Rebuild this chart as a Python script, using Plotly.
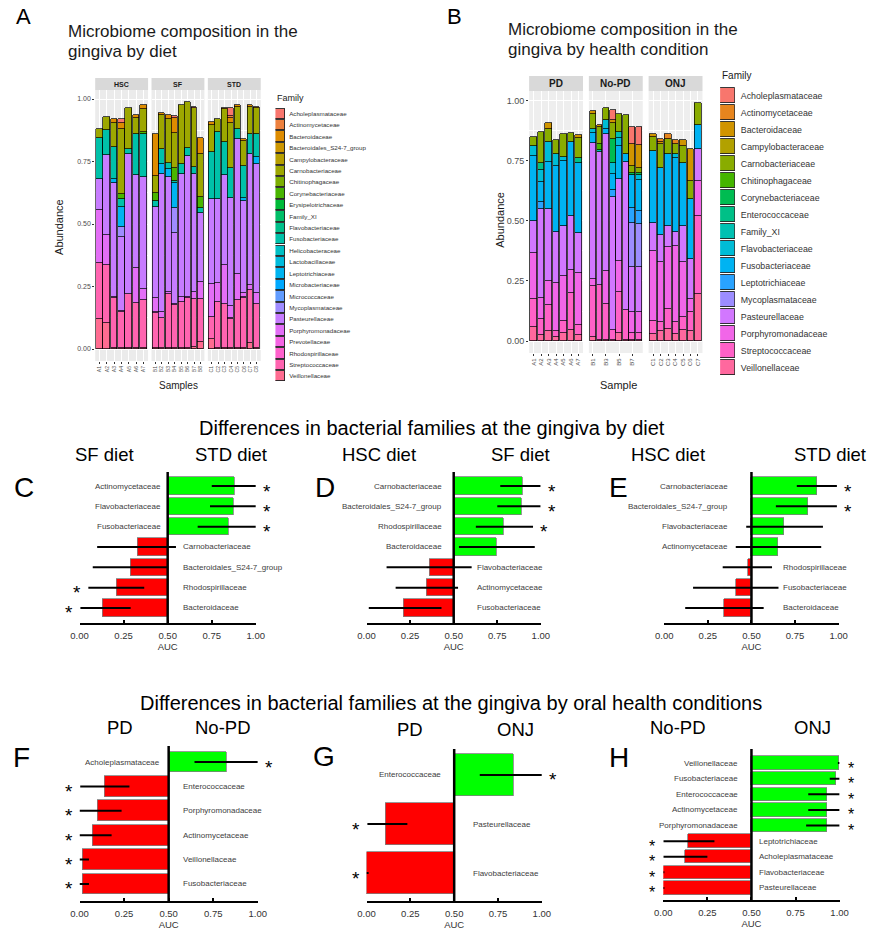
import math
import plotly.graph_objects as go

W, H = 878, 939
FONT = "Arial, 'Liberation Sans', sans-serif"

# ---------------- Panel A data (gingiva by diet) ----------------
a_families = ["Acholeplasmataceae", "Actinomycetaceae", "Bacteroidaceae", "Bacteroidales_S24-7_group",
              "Campylobacteraceae", "Carnobacteriaceae", "Chitinophagaceae", "Corynebacteriaceae",
              "Erysipelotrichaceae", "Family_XI", "Flavobacteriaceae", "Fusobacteriaceae",
              "Helicobacteraceae", "Lactobacillaceae", "Leptotrichiaceae", "Microbacteriaceae",
              "Micrococcaceae", "Mycoplasmataceae", "Pasteurellaceae", "Porphyromonadaceae",
              "Prevotellaceae", "Rhodospirillaceae", "Streptococcaceae", "Veillonellaceae"]
a_groups = ["HSC", "SF", "STD"]
a_samples_hsc = ["A1", "A2", "A3", "A4", "A5", "A6", "A7"]
a_samples_sf = ["B1", "B2", "B3", "B4", "B5", "B6", "B7", "B8"]
a_samples_std = ["C1", "C2", "C3", "C4", "C5", "C6", "C7", "C8"]
# values: HSC1-7, SF1-8, STD1-8
a_veillonellaceae = [.12, .105, .005, .005, .005, .005, .005, .005, .005, .005, .005, .005, .005, .01, .03,
                     .04, .005, .005, .005, .005, .005, .025, .005]
a_streptococcaceae = [.225, .23, .20, .145, .215, .18, .19, .14, .12, .215, .17, .185, .20, .19, .17,
                      .09, .185, .175, .115, .19, .20, .21, .175]
a_prevotellaceae = [0, 0, .004, .004, 0, 0, 0, .004, 0, 0, .004, 0, .004, 0, 0,
                    0, 0, 0, .004, 0, .004, 0, 0]
a_porphyromonadaceae = [.21, .12, 0, 0, 0, .14, .045, .055, .025, .01, 0, .02, 0, .03, .07,
                        .13, .075, .155, .05, .105, .015, .02, .045]
a_pasteurellaceae = [.125, .32, .455, .295, .56, .37, .45, .365, .55, .46, .285, .49, .565, .47, .275,
                     .34, .335, .36, .43, .54, .37, .525, .515]
a_mycoplasmataceae = [0, 0, 0, .04, 0, 0, 0, 0, 0, 0, .10, 0, 0, 0, 0,
                      0, 0, 0, 0, 0, 0, 0, 0]
a_leptotrichiaceae = [0, 0, .015, .08, 0, 0, 0, 0, .04, .03, .10, 0, 0, 0, 0,
                      0, 0, 0, 0, 0, .01, 0, .03]
a_fusobacteriaceae = [.165, .10, .13, .03, .02, .165, .17, .025, .06, .025, .01, .04, .03, .03, .02,
                      .19, .27, .135, .12, .04, .13, .08, .09]
a_corynebacteriaceae = [0, 0, 0, .02, 0, 0, .01, .03, 0, 0, .05, 0, 0, 0, .045,
                        0, 0, 0, 0, 0, 0, 0, 0]
a_carnobacteriaceae = [.035, .055, .095, .26, .165, .065, .09, .07, .135, .175, .14, .235, .185, .235, .17,
                       .105, .05, .13, .18, .09, .10, .11, .105]
a_bacteroidaceae = [0, 0, .015, .025, 0, .01, .015, .165, .01, .015, .06, 0, 0, 0, .065,
                    .015, 0, .005, .02, .005, .005, .005, .005]
a_actinomycetaceae = [0, 0, 0, 0, 0, 0, 0, 0, 0, 0, 0, 0, 0, 0, 0,
                      0, 0, 0, .01, 0, 0, 0, 0]
a_acholeplasmataceae = [0, 0, 0, .015, 0, 0, 0, 0, 0, 0, .01, 0, 0, .005, 0,
                        0, 0, 0, .03, 0, 0, 0, 0]

# ---------------- Panel B data (gingiva by health condition) ----------------
b_families = ["Acholeplasmataceae", "Actinomycetaceae", "Bacteroidaceae", "Campylobacteraceae",
              "Carnobacteriaceae", "Chitinophagaceae", "Corynebacteriaceae", "Enterococcaceae",
              "Family_XI", "Flavobacteriaceae", "Fusobacteriaceae", "Leptotrichiaceae",
              "Mycoplasmataceae", "Pasteurellaceae", "Porphyromonadaceae", "Streptococcaceae",
              "Veillonellaceae"]
b_groups = ["PD", "No-PD", "ONJ"]
b_samples_pd = ["A1", "A2", "A3", "A4", "A5", "A6", "A7"]
b_samples_nopd = ["B1", "B2", "B3", "B4", "B5", "B6", "B7", "B8"]
b_samples_onj = ["C1", "C2", "C3", "C4", "C5", "C6", "C7"]
# values: PD1-7, No-PD1-8, ONJ1-7
b_veillonellaceae = [.058, .025, .04, .015, .035, .045, .025, .015, .005, .005, .005, .035, .005, .005, .005,
                     .03, .04, .05, .03, .045, .04, .195]
b_streptococcaceae = [.118, .065, .11, .025, .05, .155, .04, .215, .23, .15, .04, .17, .125, .03, .03,
                      .055, .04, .085, .05, .055, .08, .325]
b_porphyromonadaceae = [.19, .09, .10, .20, .185, .095, .22, .03, 0, .135, 0, .13, 0, .085, .085,
                        .29, .25, .255, .315, .23, .055, .145]
b_pasteurellaceae = [.134, .37, .30, .215, .21, .225, .165, .565, .55, .57, .555, .34, .615, .19, .19,
                     .115, .11, .09, .06, .15, .165, .135]
b_mycoplasmataceae = [0, 0, 0, 0, 0, 0, 0, 0, 0, 0, 0, 0, 0, .18, .175,
                      0, 0, 0, 0, 0, 0, 0]
b_leptotrichiaceae = [0, .03, 0, 0, 0, 0, 0, 0, 0, 0, .03, 0, 0, .065, .055,
                      0, 0, 0, 0, 0, 0, 0]
b_fusobacteriaceae = [.27, .08, .195, .275, .27, .31, .29, .04, 0, .02, .065, .135, .035, .135, .13,
                      .30, .28, .30, .305, .26, .25, .10]
b_flavobacteriaceae = [.04, .05, .085, .05, .015, 0, 0, .015, 0, .04, .045, .035, 0, 0, .02,
                       0, 0, 0, .02, 0, 0, 0]
b_family_xi = [0, 0, 0, 0, 0, 0, 0, 0, .01, 0, 0, .025, 0, 0, 0,
               0, 0, 0, 0, 0, 0, 0]
b_enterococcaceae = [0, .03, 0, 0, 0, 0, .02, 0, 0, 0, 0, 0, 0, 0, 0,
                     0, 0, 0, 0, 0, 0, 0]
b_corynebacteriaceae = [0, 0, 0, 0, 0, 0, 0, 0, 0, 0, .10, 0, 0, .01, .01,
                        0, 0, 0, 0, 0, 0, 0]
b_chitinophagaceae = [0, 0, 0, 0, 0, 0, 0, 0, .025, 0, 0, 0, 0, 0, 0,
                      0, 0, 0, 0, 0, 0, 0]
b_carnobacteriaceae = [.04, .13, .05, .055, .095, .035, .085, .065, .07, .05, .065, .075, .16, .03, .02,
                       .06, .10, .06, .04, .07, .075, .09]
b_bacteroidaceae = [0, 0, .025, 0, 0, 0, .01, .01, .01, 0, .015, 0, 0, .09, .095,
                    .01, .01, 0, 0, .025, .135, 0]
b_actinomycetaceae = [0, 0, 0, 0, 0, 0, 0, 0, 0, 0, 0, 0, 0, 0, 0,
                      0, .01, .02, .015, 0, 0, 0]
b_acholeplasmataceae = [0, 0, 0, 0, 0, 0, 0, 0, 0, 0, .04, 0, 0, .07, .075,
                        0, 0, 0, 0, 0, 0, 0]

# ---------------- AUC panels ----------------
c_names = ["Actinomycetaceae", "Flavobacteriaceae", "Fusobacteriaceae", "Carnobacteriaceae",
           "Bacteroidales_S24-7_group", "Rhodospirillaceae", "Bacteroidaceae"]
c_auc = [0.878, 0.872, 0.844, 0.33, 0.29, 0.21, 0.133]
c_lo = [0.75, 0.74, 0.67, 0.10, 0.075, 0.05, 0.005]
c_hi = [1.0, 1.0, 1.0, 0.547, 0.50, 0.367, 0.29]
c_sig = [1, 1, 1, 0, 0, 1, 1]

d_names = ["Carnobacteriaceae", "Bacteroidales_S24-7_group", "Rhodospirillaceae", "Bacteroidaceae",
           "Flavobacteriaceae", "Actinomycetaceae", "Fusobacteriaceae"]
d_auc = [0.897, 0.888, 0.788, 0.744, 0.363, 0.345, 0.211]
d_lo = [0.767, 0.75, 0.627, 0.53, 0.115, 0.167, 0.013]
d_hi = [0.998, 0.998, 0.955, 0.965, 0.603, 0.525, 0.43]
d_sig = [1, 1, 1, 0, 0, 0, 0]

e_names = ["Carnobacteriaceae", "Bacteroidales_S24-7_group", "Flavobacteriaceae", "Actinomycetaceae",
           "Rhodospirillaceae", "Fusobacteriaceae", "Bacteroidaceae"]
e_auc = [0.88, 0.826, 0.69, 0.655, 0.484, 0.413, 0.345]
e_lo = [0.76, 0.64, 0.47, 0.41, 0.335, 0.165, 0.12]
e_hi = [0.99, 0.99, 0.91, 0.90, 0.618, 0.655, 0.57]
e_sig = [1, 1, 0, 0, 0, 0, 0]

f_names = ["Acholeplasmataceae", "Enterococcaceae", "Porphyromonadaceae", "Actinomycetaceae",
           "Veillonellaceae", "Fusobacteriaceae"]
f_auc = [0.822, 0.14, 0.103, 0.071, 0.016, 0.016]
f_lo = [0.645, 0.004, 0.0, 0.0, 0.0, 0.0]
f_hi = [1.0, 0.28, 0.236, 0.18, 0.053, 0.053]
f_sig = [1, 1, 1, 1, 1, 1]

g_names = ["Enterococcaceae", "Pasteurellaceae", "Flavobacteriaceae"]
g_auc = [0.84, 0.106, 0.0]
g_lo = [0.646, 0.005, 0.0]
g_hi = [1.0, 0.233, 0.012]
g_sig = [1, 1, 1]

h_names = ["Veillonellaceae", "Fusobacteriaceae", "Enterococcaceae", "Actinomycetaceae",
           "Porphyromonadaceae", "Leptotrichiaceae", "Acholeplasmataceae", "Flavobacteriaceae",
           "Pasteurellaceae"]
h_auc = [1.0, 0.983, 0.93, 0.93, 0.93, 0.14, 0.122, 0.0, 0.0]
h_lo = [0.99, 0.944, 0.822, 0.822, 0.81, 0.0, 0.0, 0.0, 0.0]
h_hi = [1.0, 1.0, 1.0, 1.0, 1.0, 0.29, 0.25, 0.006, 0.006]
h_sig = [1, 1, 1, 1, 1, 1, 1, 1, 1]

auc_ticks = [0, 0.25, 0.5, 0.75, 1.0]
auc_ticktext = ["0.00", "0.25", "0.50", "0.75", "1.00"]
abund_ticks = [0, 0.25, 0.5, 0.75, 1.0]
abund_ticktext = ["0.00", "0.25", "0.50", "0.75", "1.00"]


# ---------------- helpers ----------------
def hcl_hex(h, c=100.0, l=65.0):
    hr = math.radians(h)
    U, V = c * math.cos(hr), c * math.sin(hr)
    Xn, Yn, Zn = 95.047, 100.0, 108.883
    Y = Yn * ((l + 16) / 116) ** 3 if l > 8 else Yn * l / 903.3
    t = Xn + 15 * Yn + 3 * Zn
    un, vn = 4 * Xn / t, 9 * Yn / t
    u, v = U / (13 * l) + un, V / (13 * l) + vn
    X = 9.0 * Y * u / (4 * v)
    Z = -X / 3 - 5 * Y + 3 * Y / v
    X, Y, Z = X / 100, Y / 100, Z / 100
    r = 3.240479 * X - 1.537150 * Y - 0.498535 * Z
    g = -0.969256 * X + 1.875992 * Y + 0.041556 * Z
    b = 0.055648 * X - 0.204043 * Y + 1.057311 * Z

    def gam(x):
        x = 1.055 * x ** (1 / 2.4) - 0.055 if x > 0.0031308 else 12.92 * x
        return min(1.0, max(0.0, x))
    return "#%02X%02X%02X" % tuple(int(round(255 * gam(x))) for x in (r, g, b))


def hue_pal(n):
    return [hcl_hex(15 + 360.0 * i / n) for i in range(n)]


def P(x):
    return x / W


def Q(y):
    return 1 - y / H


def ref(i, letter):
    return letter if i == 1 else f"{letter}{i}"


def axkey(i, letter):
    return f"{letter}axis" if i == 1 else f"{letter}axis{i}"


fig = go.Figure()
lay = {}
shapes = []
annos = []


def text(x, y, s, size, xanchor="center", yanchor="middle", color="#000000", angle=0, xref="paper",
         yref="paper", xshift=0, yshift=0):
    annos.append(dict(x=x, y=y, xref=xref, yref=yref, text=s, showarrow=False, xanchor=xanchor,
                      yanchor=yanchor, textangle=angle, xshift=xshift, yshift=yshift,
                      font=dict(size=size, color=color, family=FONT)))


def composition(start, groups, sample_groups, families, values, colors, xdoms, ytop, ybot, yrng,
                strip, strip_size, ytick_size, xtick_size, bg):
    offset = 0
    for k, g in enumerate(groups):
        idx = start + k
        xa, ya = ref(idx, "x"), ref(idx, "y")
        smp = sample_groups[k]
        n = len(smp)
        for fam in reversed(families):
            vals = values.get(fam)
            if vals is None:
                continue
            seg = vals[offset:offset + n]
            if not any(seg):
                continue
            fig.add_trace(go.Bar(x=smp, y=[v if v else None for v in seg], width=0.9,
                                 marker=dict(color=colors[fam], line=dict(color="black", width=0.7)),
                                 xaxis=xa, yaxis=ya, showlegend=False, hoverinfo="skip"))
        offset += n
        lay[axkey(idx, "x")] = dict(domain=[P(xdoms[k][0]), P(xdoms[k][1])], anchor=ya, type="category",
                                    categoryorder="array", categoryarray=smp, range=[-0.6, n - 0.4],
                                    tickangle=-90, tickfont=dict(size=xtick_size, color="#4d4d4d"),
                                    showgrid=True, gridcolor="white", gridwidth=1, ticks="outside",
                                    ticklen=2, tickcolor="#333333", showline=False, zeroline=False)
        lay[axkey(idx, "y")] = dict(domain=[Q(ybot), Q(ytop)], anchor=xa, range=yrng,
                                    tickmode="array", tickvals=abund_ticks, ticktext=abund_ticktext,
                                    showticklabels=(k == 0), ticks="outside" if k == 0 else "",
                                    ticklen=2, tickcolor="#333333",
                                    tickfont=dict(size=ytick_size, color="#4d4d4d"),
                                    showgrid=True, gridcolor="white", gridwidth=1, zeroline=False,
                                    showline=False,
                                    minor=dict(tickmode="array", tickvals=[0.125, 0.375, 0.625, 0.875],
                                               showgrid=True, gridcolor="white", gridwidth=0.5))
        shapes.append(dict(type="rect", xref=f"{xa} domain", yref=f"{ya} domain", x0=0, x1=1, y0=0, y1=1,
                           fillcolor=bg, line=dict(width=0), layer="below"))
        shapes.append(dict(type="rect", xref=f"{xa} domain", yref="paper", x0=0, x1=1,
                           y0=Q(strip[1]), y1=Q(strip[0]), fillcolor="#D9D9D9", line=dict(width=0),
                           layer="below"))
        annos.append(dict(x=0.5, y=Q((strip[0] + strip[1]) / 2), xref=f"{xa} domain", yref="paper",
                          text=f"<b>{g}</b>", showarrow=False, xanchor="center", yanchor="middle",
                          font=dict(size=strip_size, color="#1a1a1a", family=FONT)))


def legend_keys(idx, families, colors, x0, x1, ytop, ybot, label_size, standoff):
    xa, ya = ref(idx, "x"), ref(idx, "y")
    n = len(families)
    pos = list(range(n))
    fig.add_trace(go.Bar(y=pos, x=[1] * n, orientation="h", width=0.9,
                         marker=dict(color=[colors[f] for f in families], line=dict(color="#222222", width=0.9)),
                         xaxis=xa, yaxis=ya, showlegend=False, hoverinfo="skip"))
    lay[axkey(idx, "x")] = dict(domain=[P(x0), P(x1)], anchor=ya, range=[0, 1], visible=False)
    lay[axkey(idx, "y")] = dict(domain=[Q(ybot), Q(ytop)], anchor=xa, range=[n - 0.5, -0.5], side="right",
                                tickmode="array", tickvals=pos, ticktext=families, ticks="",
                                showgrid=False, zeroline=False, showline=False,
                                ticklabelstandoff=standoff,
                                tickfont=dict(size=label_size, color="#333333"))


def auc_panel(idx, names, auc, lo, hi, sig, x0, x1, top, axis_y, tpad, bpad, gshift, rshift, star_size=19):
    n = len(names)
    xa, ya = ref(idx, "x"), ref(idx, "y")
    pos = list(range(n))
    cols = ["#00FF00" if a > 0.5 else "#FF0000" for a in auc]
    fig.add_trace(go.Bar(y=pos, x=[a - 0.5 for a in auc], base=0.5, orientation="h", width=0.85,
                         marker=dict(color=cols, line=dict(color="#808080", width=0.8)),
                         xaxis=xa, yaxis=ya, showlegend=False, hoverinfo="skip", cliponaxis=False))
    xs, ys = [], []
    for i in range(n):
        xs += [lo[i], hi[i], None]
        ys += [i, i, None]
    fig.add_trace(go.Scatter(x=xs, y=ys, mode="lines", line=dict(color="black", width=2),
                             xaxis=xa, yaxis=ya, showlegend=False, hoverinfo="skip", cliponaxis=False))
    lay[axkey(idx, "x")] = dict(domain=[P(x0), P(x1)], anchor=ya, range=[0, 1], tickmode="array",
                                tickvals=auc_ticks, ticktext=auc_ticktext, showline=True, linecolor="black",
                                linewidth=1.5, ticks="inside", ticklen=3, tickwidth=1.5, tickcolor="black",
                                ticklabelstandoff=3, tickfont=dict(size=9.5, color="#333333"),
                                showgrid=False, zeroline=False,
                                title=dict(text="AUC", font=dict(size=9.5, color="#333333"), standoff=3))
    lay[axkey(idx, "y")] = dict(domain=[Q(axis_y), Q(top)], anchor=xa, range=[n - 1 + bpad, -tpad],
                                visible=False)
    shapes.append(dict(type="line", xref=xa, yref=f"{ya} domain", x0=0.5, x1=0.5, y0=0, y1=1,
                       line=dict(color="black", width=2.5), layer="above"))
    greens = [lo[i] for i in range(n) if auc[i] > 0.5]
    reds = [hi[i] for i in range(n) if auc[i] <= 0.5]
    g_anchor = min([0.5] + greens)
    r_anchor = max([0.5] + reds)
    for i in range(n):
        if auc[i] > 0.5:
            annos.append(dict(x=g_anchor, y=i, xref=xa, yref=ya, text=names[i], showarrow=False,
                              xanchor="right", yanchor="middle", xshift=-gshift,
                              font=dict(size=8, color="#404040", family=FONT)))
            if sig[i]:
                annos.append(dict(x=hi[i], y=i, xref=xa, yref=ya, text="*", showarrow=False,
                                  xanchor="center", yanchor="middle", xshift=11, yshift=-5,
                                  font=dict(size=star_size, color="black", family=FONT)))
        else:
            annos.append(dict(x=r_anchor, y=i, xref=xa, yref=ya, text=names[i], showarrow=False,
                              xanchor="left", yanchor="middle", xshift=rshift,
                              font=dict(size=8, color="#404040", family=FONT)))
            if sig[i]:
                annos.append(dict(x=lo[i], y=i, xref=xa, yref=ya, text="*", showarrow=False,
                                  xanchor="center", yanchor="middle", xshift=-11, yshift=-5,
                                  font=dict(size=star_size, color="black", family=FONT)))


# ---------------- build panel A ----------------
a_values = {"Veillonellaceae": a_veillonellaceae, "Streptococcaceae": a_streptococcaceae,
            "Prevotellaceae": a_prevotellaceae, "Porphyromonadaceae": a_porphyromonadaceae,
            "Pasteurellaceae": a_pasteurellaceae, "Mycoplasmataceae": a_mycoplasmataceae,
            "Leptotrichiaceae": a_leptotrichiaceae, "Fusobacteriaceae": a_fusobacteriaceae,
            "Corynebacteriaceae": a_corynebacteriaceae, "Carnobacteriaceae": a_carnobacteriaceae,
            "Bacteroidaceae": a_bacteroidaceae, "Actinomycetaceae": a_actinomycetaceae,
            "Acholeplasmataceae": a_acholeplasmataceae}
a_colors = dict(zip(a_families, hue_pal(len(a_families))))
composition(1, a_groups, [a_samples_hsc, a_samples_sf, a_samples_std], a_families, a_values, a_colors,
            [(88, 142), (145.5, 199.5), (203, 257)], 90, 361, [-0.048, 1.036], (78, 90), 7, 7, 5,
            "#EBEBEB")
legend_keys(4, a_families, a_colors, 272, 282, 108, 382, 6.2, 3)

# ---------------- build panel B ----------------
b_values = {"Veillonellaceae": b_veillonellaceae, "Streptococcaceae": b_streptococcaceae,
            "Porphyromonadaceae": b_porphyromonadaceae, "Pasteurellaceae": b_pasteurellaceae,
            "Mycoplasmataceae": b_mycoplasmataceae, "Leptotrichiaceae": b_leptotrichiaceae,
            "Fusobacteriaceae": b_fusobacteriaceae, "Flavobacteriaceae": b_flavobacteriaceae,
            "Family_XI": b_family_xi, "Enterococcaceae": b_enterococcaceae,
            "Corynebacteriaceae": b_corynebacteriaceae, "Chitinophagaceae": b_chitinophagaceae,
            "Carnobacteriaceae": b_carnobacteriaceae, "Bacteroidaceae": b_bacteroidaceae,
            "Actinomycetaceae": b_actinomycetaceae, "Acholeplasmataceae": b_acholeplasmataceae}
b_colors = dict(zip(b_families, hue_pal(len(b_families))))
composition(5, b_groups, [b_samples_pd, b_samples_nopd, b_samples_onj], b_families, b_values, b_colors,
            [(531, 586), (592, 647), (653, 708)], 91, 353, [-0.0495, 1.04], (76, 91), 10, 9, 6,
            "#EEEEEE")
legend_keys(8, b_families, b_colors, 726, 741, 87, 376, 8.8, 5)

# ---------------- AUC panels ----------------
auc_panel(9, c_names, c_auc, c_lo, c_hi, c_sig, 72, 252, 472, 623, 0.69, 0.74, 5, 5)
auc_panel(10, d_names, d_auc, d_lo, d_hi, d_sig, 365, 543, 472, 623, 0.69, 0.74, 10, 3)
auc_panel(11, e_names, e_auc, e_lo, e_hi, e_sig, 669, 847, 472, 623, 0.69, 0.74, 6, 3)
auc_panel(12, f_names, f_auc, f_lo, f_hi, f_sig, 72, 254, 746, 901, 0.66, 0.70, 7, 12)
auc_panel(13, g_names, g_auc, g_lo, g_hi, g_sig, 365, 544, 749, 901, 0.53, 0.57, 11, 17)
auc_panel(14, h_names, h_auc, h_lo, h_hi, h_sig, 668, 848, 749, 900, 0.9, 0.77, 11, 6, star_size=16)

# ---------------- texts ----------------
text(P(15), Q(16), "A", 22)
text(P(455), Q(16), "B", 22)
text(P(58), Q(31), "Microbiome composition in the", 17, xanchor="left", color="#1a1a1a")
text(P(58), Q(51), "gingiva by diet", 17, xanchor="left", color="#1a1a1a")
text(P(507), Q(30), "Microbiome composition in the", 17, xanchor="left", color="#1a1a1a")
text(P(507), Q(50), "gingiva by health condition", 17, xanchor="left", color="#1a1a1a")
text(P(51), Q(227), "Abundance", 11, angle=-90, color="#1a1a1a")
text(P(173), Q(385), "Samples", 10, color="#1a1a1a")
text(P(501), Q(220), "Abundance", 11, angle=-90, color="#1a1a1a")
text(P(622), Q(385), "Sample", 11, color="#1a1a1a")
text(P(272), Q(98), "Family", 9, xanchor="left", color="#1a1a1a")
text(P(726), Q(76), "Family", 10, xanchor="left", color="#1a1a1a")

text(P(432), Q(428), "Differences in bacterial families at the gingiva by diet", 20)
text(P(451), Q(703), "Differences in bacterial families at the gingiva by oral health conditions", 20)

for lbl, x, y in [("C", 15, 487), ("D", 323, 487), ("E", 622, 487),
                  ("F", 13, 757), ("G", 322, 756), ("H", 623, 757)]:
    text(P(x), Q(y), lbl, 28)

for s, x, y in [("SF diet", 97, 454), ("STD diet", 227, 454), ("HSC diet", 378, 454), ("SF diet", 522, 454),
                ("HSC diet", 673, 454), ("STD diet", 838, 454),
                ("PD", 113, 727), ("No-PD", 218, 727), ("PD", 409, 729), ("ONJ", 517, 729),
                ("No-PD", 683, 727), ("ONJ", 820, 727)]:
    text(P(x), Q(y), s, 18.5)

fig.update_layout(width=W, height=H, margin=dict(l=0, r=0, t=0, b=0), paper_bgcolor="white",
                  plot_bgcolor="rgba(0,0,0,0)", barmode="stack", bargap=0, showlegend=False,
                  font=dict(family=FONT, color="#1a1a1a"), shapes=shapes, annotations=annos, **lay)
fig.write_html("out.html", config={"displayModeBar": False},
               post_script="document.body.style.margin='0px';document.body.style.padding='0px';"
                           "document.body.style.overflow='hidden';")
